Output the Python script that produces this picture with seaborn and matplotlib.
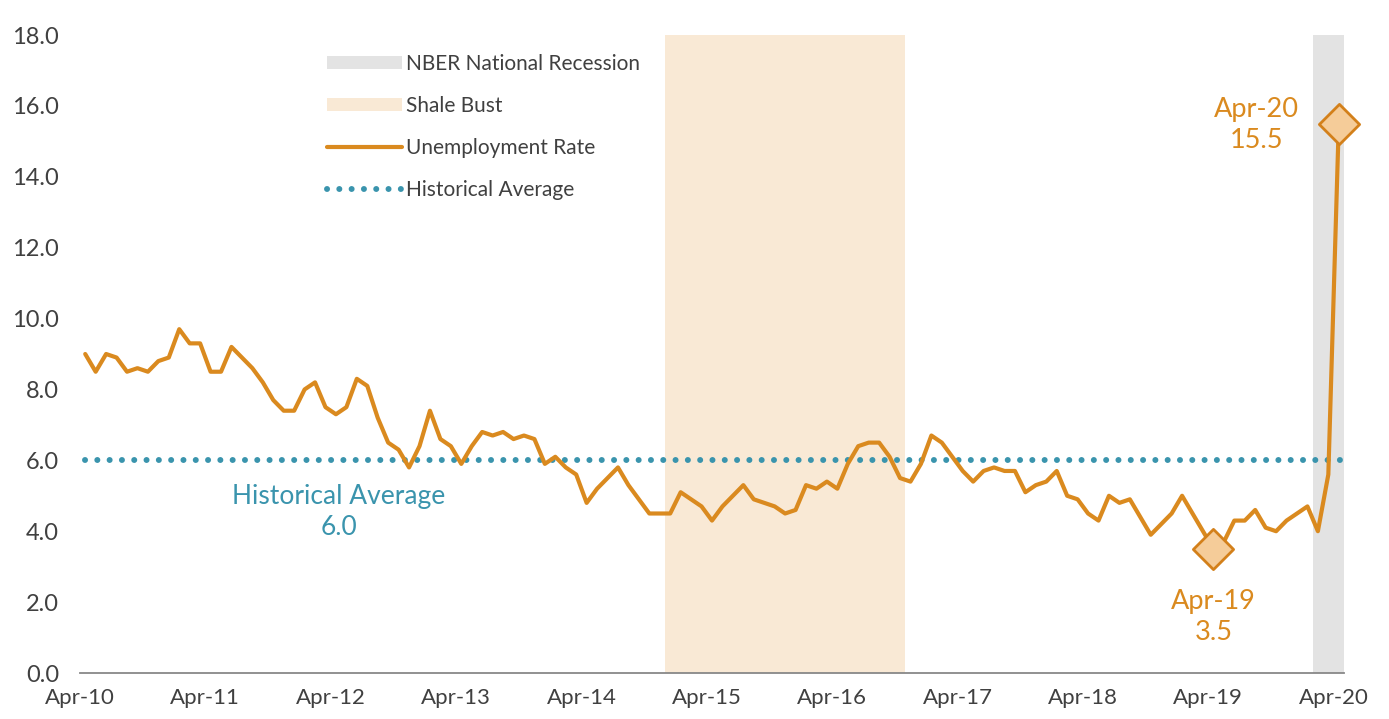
import numpy as np
import pandas as pd
import matplotlib
matplotlib.use("Agg")
import matplotlib.pyplot as plt
from matplotlib.patches import Patch
from matplotlib.lines import Line2D
import seaborn as sns

# ---------------- data ----------------
tick_labels = ["Apr-10", "Apr-11", "Apr-12", "Apr-13", "Apr-14", "Apr-15",
               "Apr-16", "Apr-17", "Apr-18", "Apr-19", "Apr-20"]
y_ticks = [0, 2, 4, 6, 8, 10, 12, 14, 16, 18]

unemployment_rate = [
    9.0, 8.5, 9.0, 8.9, 8.5, 8.6, 8.5, 8.8, 8.9, 9.7, 9.3, 9.3,   # Apr-10..Mar-11
    8.5, 8.5, 9.2, 8.9, 8.6, 8.2, 7.7, 7.4, 7.4, 8.0, 8.2, 7.5,   # Apr-11..Mar-12
    7.3, 7.5, 8.3, 8.1, 7.2, 6.5, 6.3, 5.8, 6.4, 7.4, 6.6, 6.4,   # Apr-12..Mar-13
    5.9, 6.4, 6.8, 6.7, 6.8, 6.6, 6.7, 6.6, 5.9, 6.1, 5.8, 5.6,   # Apr-13..Mar-14
    4.8, 5.2, 5.5, 5.8, 5.3, 4.9, 4.5, 4.5, 4.5, 5.1, 4.9, 4.7,   # Apr-14..Mar-15
    4.3, 4.7, 5.0, 5.3, 4.9, 4.8, 4.7, 4.5, 4.6, 5.3, 5.2, 5.4,   # Apr-15..Mar-16
    5.2, 5.9, 6.4, 6.5, 6.5, 6.1, 5.5, 5.4, 5.9, 6.7, 6.5, 6.1,   # Apr-16..Mar-17
    5.7, 5.4, 5.7, 5.8, 5.7, 5.7, 5.1, 5.3, 5.4, 5.7, 5.0, 4.9,   # Apr-17..Mar-18
    4.5, 4.3, 5.0, 4.8, 4.9, 4.4, 3.9, 4.2, 4.5, 5.0, 4.5, 4.0,   # Apr-18..Mar-19
    3.5, 3.7, 4.3, 4.3, 4.6, 4.1, 4.0, 4.3, 4.5, 4.7, 4.0, 5.6,   # Apr-19..Mar-20
    15.5,                                                        # Apr-20
]
historical_average = 6.0

# periods in months from Apr-10 (start, end)
shale_bust = (56, 79)        # Dec-14 .. Oct-16
nber_recession = (118, 121)  # Feb-20 .. Apr-20

highlight_idx = [108, 120]   # Apr-19, Apr-20
highlight_text = ["Apr-19\n3.5", "Apr-20\n15.5"]

# ---------------- style ----------------
ORANGE = "#DA8A1F"
DIAMOND_FILL = "#F5CC99"
DIAMOND_EDGE = "#D3801A"
TEAL = "#3A94AD"
SHALE = "#F9E9D5"
RECESS = "#E3E3E3"
TXT = "#404040"
DOT_LW = 4.3
DOTS = (0, (0.01, 2.05))

sns.set_style("white")
plt.rcParams["font.family"] = ["Lato", "DejaVu Sans"]

n = len(unemployment_rate)
df = pd.DataFrame({"month": np.arange(n) + 0.5, "rate": unemployment_rate})

fig = plt.figure(figsize=(13.89, 7.19), dpi=100)
ax = fig.add_axes([80 / 1389, 46 / 719, 1264 / 1389, 638 / 719])

ax.axvspan(*nber_recession, color=RECESS, lw=0, zorder=0)
ax.axvspan(*shale_bust, color=SHALE, lw=0, zorder=0)

avg_df = pd.DataFrame({"month": [df["month"].iloc[0], df["month"].iloc[-1] + 0.3],
                       "rate": [historical_average, historical_average]})
sns.lineplot(data=avg_df, x="month", y="rate", ax=ax, color=TEAL, lw=DOT_LW,
             linestyle=DOTS, dash_capstyle="round", zorder=2)

sns.lineplot(data=df, x="month", y="rate", ax=ax, color=ORANGE, lw=3.0,
             zorder=3)

hl = df.iloc[highlight_idx]
sns.scatterplot(x=hl["month"], y=hl["rate"], ax=ax, marker="D", s=20.5 ** 2,
                color=DIAMOND_FILL, edgecolor=DIAMOND_EDGE, linewidth=2,
                zorder=4, clip_on=False)

# annotations
ax.text(df["month"].iloc[108], 1.57, highlight_text[0], ha="center", va="center",
        fontsize=19.5, color=ORANGE, linespacing=1.3)
ax.text(112.6, 15.45, highlight_text[1], ha="center", va="center",
        fontsize=19.5, color=ORANGE, linespacing=1.3)
ax.text(24.8, 4.53, "Historical Average\n6.0", ha="center", va="center",
        fontsize=19, color=TEAL, linespacing=1.3)

ax.set_xlim(0, n)
ax.set_ylim(0, 18)
ax.set_xticks(np.arange(0, n, 12))
ax.set_xticklabels(tick_labels)
ax.set_yticks(y_ticks)
ax.set_yticklabels([f"{v:.1f}" for v in y_ticks])
ax.set_xlabel("")
ax.set_ylabel("")

for s in ["top", "right", "left"]:
    ax.spines[s].set_visible(False)
ax.spines["bottom"].set_color("#888888")
ax.spines["bottom"].set_linewidth(1.3)
ax.tick_params(axis="x", direction="out", length=6, width=1.2, color="#888888",
               labelsize=16, labelcolor=TXT, pad=5)
ax.tick_params(axis="y", length=0, labelsize=17, labelcolor=TXT, pad=15)

handles = [
    Patch(facecolor=RECESS, edgecolor="none", label="NBER National Recession"),
    Patch(facecolor=SHALE, edgecolor="none", label="Shale Bust"),
    Line2D([0], [0], color=ORANGE, lw=3, label="Unemployment Rate"),
    Line2D([0], [0], color=TEAL, lw=DOT_LW, linestyle=DOTS,
           dash_capstyle="round", label="Historical Average"),
]
leg = fig.legend(handles=handles, loc="upper left", bbox_to_anchor=(327 / 1389, 1 - 54 / 719),
                 frameon=False, fontsize=15, handlelength=3.6, handleheight=0.6,
                 handletextpad=0.2, labelspacing=1.05, borderpad=0, borderaxespad=0)
for t in leg.get_texts():
    t.set_color(TXT)

fig.savefig("out.png", dpi=100)
